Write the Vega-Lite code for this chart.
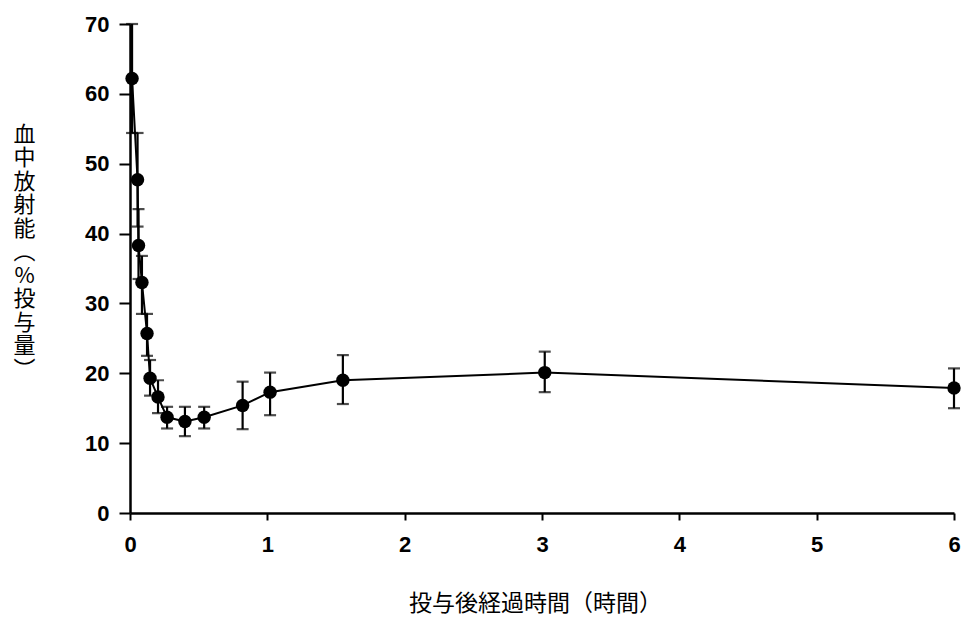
{
  "$schema": "https://vega.github.io/schema/vega-lite/v6.json",
  "width": 824,
  "height": 489,
  "autosize": "none",
  "padding": {"left": 130, "top": 24, "right": 8, "bottom": 116},
  "background": "white",
  "config": {
    "view": {"stroke": null},
    "axis": {
      "grid": false,
      "domainColor": "black",
      "domainWidth": 2.5,
      "tickColor": "black",
      "tickWidth": 2,
      "labelColor": "black",
      "labelFont": "Liberation Sans",
      "labelFontSize": 22,
      "labelFontWeight": "bold",
      "titleColor": "black",
      "titleFont": "Noto Sans CJK JP",
      "titleFontWeight": "normal",
      "titleFontSize": 22
    }
  },
  "data": {
    "values": [
      {"t": 0.015, "m": 62.2, "lo": 54.4, "hi": 70.0},
      {"t": 0.055, "m": 47.7, "lo": 41.0, "hi": 54.4},
      {"t": 0.062, "m": 38.3, "lo": 33.5, "hi": 43.5},
      {"t": 0.087, "m": 33.0, "lo": 28.5, "hi": 36.8},
      {"t": 0.124, "m": 25.7, "lo": 22.5, "hi": 28.5},
      {"t": 0.146, "m": 19.3, "lo": 16.8, "hi": 21.9},
      {"t": 0.204, "m": 16.6, "lo": 14.3, "hi": 19.0},
      {"t": 0.27, "m": 13.7, "lo": 12.1, "hi": 15.2},
      {"t": 0.40, "m": 13.1, "lo": 11.0, "hi": 15.2},
      {"t": 0.54, "m": 13.7, "lo": 12.1, "hi": 15.2},
      {"t": 0.82, "m": 15.4, "lo": 12.0, "hi": 18.8},
      {"t": 1.02, "m": 17.3, "lo": 14.0, "hi": 20.1},
      {"t": 1.55, "m": 19.0, "lo": 15.6, "hi": 22.6},
      {"t": 3.02, "m": 20.1, "lo": 17.3, "hi": 23.1},
      {"t": 6.0, "m": 17.9, "lo": 15.0, "hi": 20.7}
    ]
  },
  "encoding": {
    "x": {
      "field": "t",
      "type": "quantitative",
      "scale": {"domain": [0, 6], "nice": false},
      "axis": {
        "values": [0, 1, 2, 3, 4, 5, 6],
        "format": "d",
        "tickSize": 7,
        "labelPadding": 14,
        "labelFlush": false,
        "labelOverlap": false,
        "title": "投与後経過時間（時間）",
        "titleFontSize": 23,
        "titleX": 405,
        "titleY": 90,
        "titleAlign": "center",
        "titleBaseline": "middle"
      }
    }
  },
  "resolve": {"axis": {"y": "independent"}},
  "layer": [
    {
      "mark": {"type": "line", "color": "black", "strokeWidth": 2},
      "encoding": {
        "y": {
          "field": "m",
          "type": "quantitative",
          "scale": {"domain": [0, 70], "nice": false},
          "axis": {
            "values": [0, 10, 20, 30, 40, 50, 60, 70],
            "tickSize": 11,
            "labelPadding": 10,
            "title": ["血", "中", "放", "射", "能", "︵", "%", "投", "与", "量", "︶"],
            "titleAngle": 0,
            "titleX": -106,
            "titleY": 100,
            "titleAlign": "center",
            "titleBaseline": "top",
            "titleLineHeight": 23.5
          }
        }
      }
    },
    {
      "mark": {"type": "errorbar", "ticks": {"size": 12}, "color": "black", "thickness": 2.2},
      "encoding": {
        "y": {"field": "lo", "type": "quantitative", "axis": null},
        "y2": {"field": "hi"}
      }
    },
    {
      "mark": {"type": "point", "filled": true, "shape": "circle", "size": 180, "color": "black", "opacity": 1},
      "encoding": {
        "y": {"field": "m", "type": "quantitative", "axis": null}
      }
    }
  ]
}
